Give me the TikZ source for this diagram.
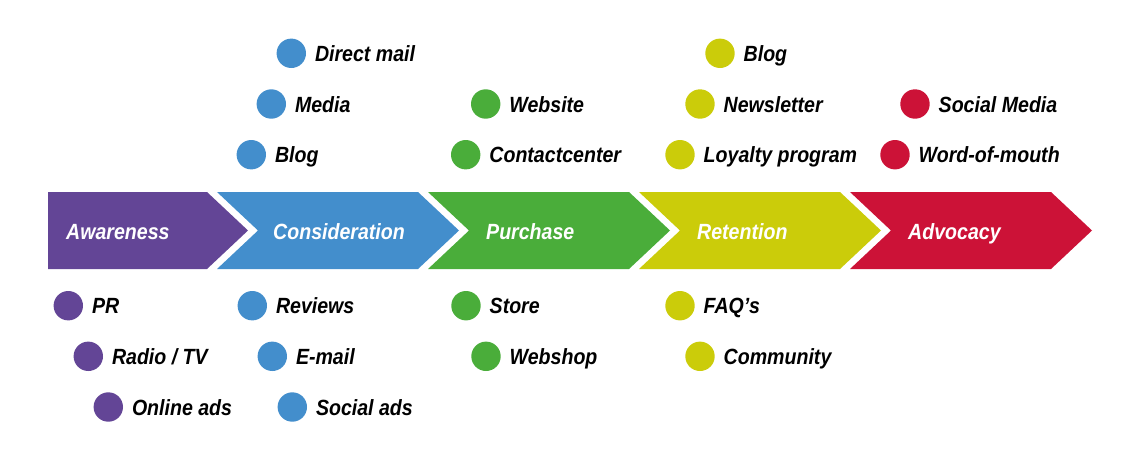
\documentclass[tikz,border=0pt]{standalone}
\usepackage{fontspec}
\newfontfamily\labfont{Liberation Sans}[FakeStretch=0.89]
\definecolor{cpurple}{HTML}{634596}
\definecolor{cblue}{HTML}{438ECC}
\definecolor{cgreen}{HTML}{4AAD3A}
\definecolor{cyellow}{HTML}{CBCC0A}
\definecolor{cred}{HTML}{CC1237}
\newcommand\mkchan[5]{%
  \node[dot,fill=#2] (#1) at (#3,#4) {};
  \node[lab] (#1t) at ([xshift=23.5pt,yshift=-8pt]#1.center) {#5};}
\begin{document}
\begin{tikzpicture}[x=1pt,y=-1pt,
  dot/.style={circle,minimum size=29.4pt,inner sep=0pt,draw=none},
  lab/.style={anchor=base west,inner sep=0pt,font=\labfont\bfseries\itshape\fontsize{22}{22}\selectfont},
  stagetext/.style={lab,text=white}]
\useasboundingbox (0,0) rectangle (1128,461);
% chevrons
\fill[cpurple] (48,192) -- (207,192) -- (248,230.5) -- (207,269) -- (48,269) -- cycle;
\foreach \c/\k in {cblue/0,cgreen/1,cyellow/2,cred/3}{
  \fill[\c] ({217+211*\k},192) -- ({418+211*\k},192) -- ({459+211*\k},230.5)
    -- ({418+211*\k},269) -- ({217+211*\k},269) -- ({258+211*\k},230.5) -- cycle;
}
\node[stagetext] (aw) at (66,239.5) {Awareness};
\node[stagetext] (co) at (273,239.5) {Consideration};
\node[stagetext] (pu) at (486,239.5) {Purchase};
\node[stagetext] (re) at (697,239.5) {Retention};
\node[stagetext] (ad) at (908,239.5) {Advocacy};
% awareness
\mkchan{pr}{cpurple}{68.3}{305.7}{PR}
\mkchan{rt}{cpurple}{88.3}{356.3}{Radio / TV}
\mkchan{oa}{cpurple}{108.3}{407}{Online ads}
% consideration
\mkchan{rv}{cblue}{252.3}{305.7}{Reviews}
\mkchan{em}{cblue}{272.3}{356.3}{E-mail}
\mkchan{sa}{cblue}{292.3}{407}{Social ads}
\mkchan{bl}{cblue}{251.3}{154.7}{Blog}
\mkchan{me}{cblue}{271.3}{104}{Media}
\mkchan{dm}{cblue}{291.3}{53.3}{Direct mail}
% purchase
\mkchan{ws}{cgreen}{485.7}{104}{Website}
\mkchan{cc}{cgreen}{465.7}{154.7}{Contactcenter}
\mkchan{st}{cgreen}{466}{305.7}{Store}
\mkchan{wb}{cgreen}{486}{356.3}{Webshop}
% retention
\mkchan{rb}{cyellow}{720}{53.3}{Blog}
\mkchan{nl}{cyellow}{700}{104}{Newsletter}
\mkchan{lp}{cyellow}{680}{154.7}{Loyalty program}
\mkchan{fq}{cyellow}{680}{305.7}{FAQ’s}
\mkchan{cm}{cyellow}{700}{356.3}{Community}
% advocacy
\mkchan{sm}{cred}{915}{104}{Social Media}
\mkchan{wm}{cred}{895}{154.7}{Word-of-mouth}
\end{tikzpicture}
\end{document}
